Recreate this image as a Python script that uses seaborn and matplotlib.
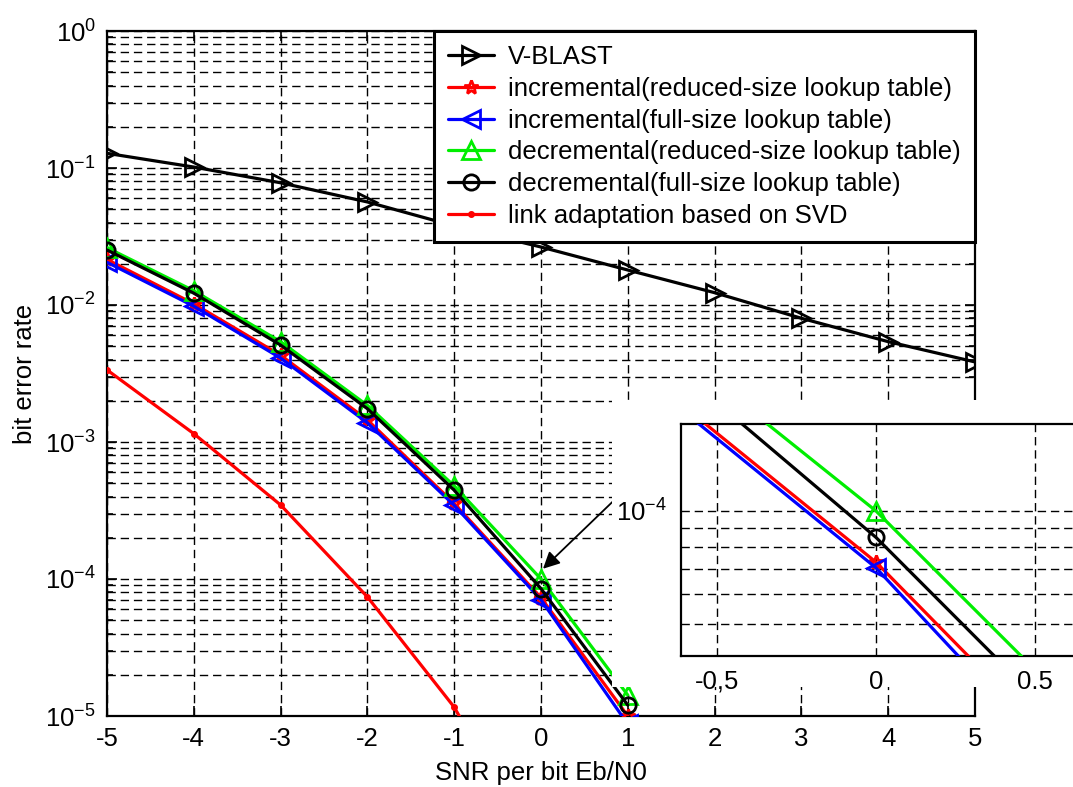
import numpy as np
import matplotlib
matplotlib.use('Agg')
import matplotlib.pyplot as plt
import seaborn as sns
from matplotlib.patches import Rectangle
from matplotlib.ticker import LogLocator, FixedLocator, NullFormatter

sns.set_style('ticks')
plt.rcParams['font.family'] = ['Liberation Sans', 'DejaVu Sans']
plt.rcParams['mathtext.default'] = 'regular'
plt.rcParams['axes.unicode_minus'] = False
plt.rcParams['lines.scale_dashes'] = False
for k in ['text.color', 'axes.labelcolor', 'xtick.color', 'ytick.color', 'axes.edgecolor']:
    plt.rcParams[k] = 'black'

# --- data ---
snr = [-5, -4, -3, -2, -1, 0, 1, 2, 3, 4, 5]
vblast = [0.128, 0.1016, 0.078, 0.0565, 0.0378, 0.0265, 0.018, 0.0123, 0.008, 0.0054, 0.00384]

snr_short = [-5, -4, -3, -2, -1, 0, 1]
inc_reduced = [0.0215, 0.0102, 0.0043, 0.00145, 0.000356, 7.3e-5, 1.0e-5]
inc_full = [0.0205, 0.0098, 0.0041, 0.00138, 0.000345, 7.05e-5, 8.7e-6]
dec_reduced = [0.0262, 0.0127, 0.0054, 0.00185, 0.000478, 1.0e-4, 1.42e-5]
dec_full = [0.0252, 0.0122, 0.0051, 0.00175, 0.000445, 8.5e-5, 1.2e-5]

snr_svd = [-5, -4, -3, -2, -1, 0]
svd = [3.36e-3, 1.15e-3, 3.47e-4, 7.4e-5, 1.16e-5, 9e-7]

series = [
    ('V-BLAST', snr, vblast, 'black', '>', 13),
    ('incremental(reduced-size lookup table)', snr_short, inc_reduced, 'red', '*', 10),
    ('incremental(full-size lookup table)', snr_short, inc_full, 'blue', '<', 13),
    ('decremental(reduced-size lookup table)', snr_short, dec_reduced, '#00ee00', '^', 13),
    ('decremental(full-size lookup table)', snr_short, dec_full, 'black', 'o', 11),
    ('link adaptation based on SVD', snr_svd, svd, 'red', '.', 6),
]

FS = 18.5
W, H = 1073, 787
fig = plt.figure(figsize=(W / 100, H / 100), dpi=100)
ax = fig.add_axes([107 / W, 1 - 716 / H, (975 - 107) / W, (716 - 31) / H])

grid_kw = dict(color='black', linestyle=(0, (6, 3.5)), linewidth=1.0)


def draw_series(a, with_labels):
    for name, xs, ys, col, mk, ms in series:
        sns.lineplot(x=xs, y=ys, ax=a, color=col, marker=mk, markersize=ms,
                     markerfacecolor='none', markeredgecolor=col, markeredgewidth=2.0,
                     linewidth=2.3, label=name if with_labels else None,
                     legend=with_labels, zorder=3)


draw_series(ax, True)
ax.set_yscale('log')
ax.set_xlim(-5, 5)
ax.set_ylim(1e-5, 1)
ax.set_xticks(range(-5, 6))
ax.yaxis.set_major_locator(LogLocator(base=10, numticks=10))
ax.yaxis.set_minor_locator(LogLocator(base=10, subs=np.arange(2, 10), numticks=50))
ax.yaxis.set_minor_formatter(NullFormatter())
ax.grid(True, which='major', axis='x', **grid_kw)
ax.grid(True, which='both', axis='y', **grid_kw)
ax.tick_params(direction='in', which='both', top=True, right=True, labelsize=FS,
               width=1.2, pad=8)
ax.tick_params(which='major', length=7)
ax.tick_params(which='minor', length=4)
for s in ax.spines.values():
    s.set_linewidth(1.6)
ax.set_xlabel('SNR per bit Eb/N0', fontsize=FS, labelpad=7)
ax.set_ylabel('bit error rate', fontsize=FS, labelpad=6)

leg = ax.legend(loc='upper right', borderaxespad=0, fontsize=FS, frameon=True,
                fancybox=False, framealpha=1, edgecolor='black', handlelength=1.8,
                handletextpad=0.55, labelspacing=0.3, borderpad=0.55)
leg.get_frame().set_linewidth(2.2)

# arrow pointing at the zoomed spot
ax.annotate('', xy=(0.0, 1.15e-4), xytext=(0.86, 3.85e-4),
            arrowprops=dict(arrowstyle='-|>', color='black', lw=1.3,
                            mutation_scale=25), zorder=5)

# white patch behind the zoom window
fig.patches.append(Rectangle((612 / W, 1 - 687 / H), 1 - 612 / W, (687 - 400) / H,
                             transform=fig.transFigure, facecolor='white',
                             edgecolor='none', zorder=1))

# zoom window
axin = fig.add_axes([681 / W, 1 - 656 / H, (1090 - 681) / W, (656 - 424) / H])
axin.set_zorder(2)
draw_series(axin, False)
axin.set_yscale('log')
axin.set_xlim(-0.613, -0.613 + (1090 - 681) / 318)
axin.set_ylim(4.1e-5, 1.706e-4)
axin.xaxis.set_major_locator(FixedLocator([-0.5, 0, 0.5]))
axin.set_xticklabels(['-0,5', '0', '0.5'])
axin.yaxis.set_major_locator(FixedLocator([1e-4]))
axin.set_yticklabels([r'$10^{-4}$'])
axin.yaxis.set_minor_locator(FixedLocator([5e-5, 6e-5, 7e-5, 8e-5, 9e-5]))
axin.yaxis.set_minor_formatter(NullFormatter())
axin.grid(True, which='major', axis='x', **grid_kw)
axin.grid(True, which='both', axis='y', **grid_kw)
axin.tick_params(direction='in', which='both', labelsize=FS, length=0, pad=10)
for s in axin.spines.values():
    s.set_linewidth(1.6)

fig.savefig('out.png', dpi=100)
